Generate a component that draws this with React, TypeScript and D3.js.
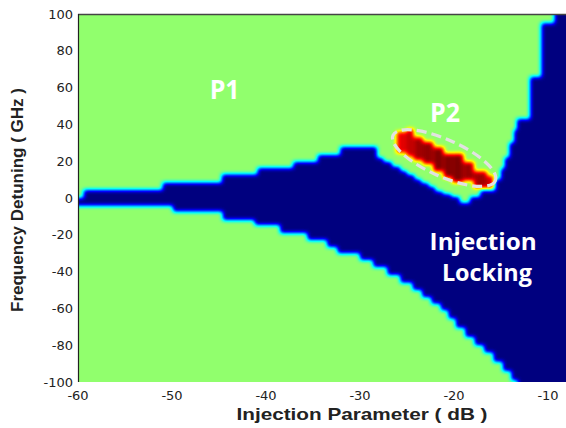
import * as d3 from 'd3';

const WIDTH = 566;
const HEIGHT = 428;

// locking region: [dB where the step starts, GHz]
const upperEdge: [number, number][] = [
  [-60, 0], [-59.4, 4.3], [-51, 8.3], [-44.7, 12.8], [-40.9, 16.3], [-37.1, 19.6],
  [-34.5, 23.4], [-32.1, 27.7], [-28.2, 21.7], [-27.5, 19.5], [-26.6, 17], [-25.7, 14.5],
  [-25, 12.5], [-24.2, 10], [-23.5, 8], [-22.7, 6], [-22, 3.5], [-21.2, 2], [-20.3, 0.5],
  [-19.4, -2.7], [-18.3, 0.5], [-17.2, 4], [-15.6, 10], [-15, 16], [-14.6, 22], [-14.1, 30],
  [-13.6, 37], [-13.3, 43], [-11.9, 65.8], [-10.7, 95], [-9.3, 120],
];
const lowerEdge: [number, number][] = [
  [-60, -4.2], [-49.9, -7.4], [-44.6, -12], [-41.2, -14.7], [-38.5, -19], [-35.6, -22.8],
  [-33.5, -26.6], [-32.4, -30], [-30, -33.7], [-28.6, -37.5], [-27.1, -41.8], [-25.7, -46],
  [-24.4, -50], [-23.4, -54], [-22.4, -57.5], [-21.4, -61], [-20.6, -65.5], [-19.8, -70.5],
  [-18.8, -75.5], [-17.8, -80], [-16.8, -84], [-15.8, -89], [-14.8, -94], [-13.9, -99],
  [-13.2, -130],
];

// P2 blob, one column per entry
const p2From = [-26.1, -25.0, -24.3, -23.3, -22.2, -21.1, -20.2, -19.0, -17.9, -16.5];
const p2To = [-25.0, -24.3, -23.3, -22.2, -21.1, -20.2, -19.0, -17.9, -16.5, -15.8];
const p2Lo = [24.5, 22.5, 20.5, 18.5, 14.5, 11, 8.5, 9.5, 5.5, 5.5];
const p2Hi = [36, 37.5, 33, 30.5, 27.5, 24, 24, 19.5, 14.5, 12];
const p2Level = [0.9, 0.94, 0.97, 0.98, 1, 1, 1, 0.98, 0.97, 0.93];

const P1_LEVEL = 0.518;
const LOCK_LEVEL = 0;

const xTicks = [-60, -50, -40, -30, -20, -10];
const yTicks = [-100, -80, -60, -40, -20, 0, 20, 40, 60, 80, 100];

const gray = (v: number) => {
  const c = Math.round(v * 255);
  return `rgb(${c},${c},${c})`;
};

export default function App() {
  const left = 78;
  const top = 14;
  const bottom = 382;

  const x = d3.scaleLinear().domain([-60, -10]).range([left, 548]);
  const y = d3.scaleLinear().domain([-100, 100]).range([bottom, top]);

  const xLo = x.invert(left - 12);
  const xHi = x.invert(WIDTH + 12);
  const extend = (pts: [number, number][]) =>
    [[xLo, pts[0][1]] as [number, number], ...pts, [xHi, pts[pts.length - 1][1]] as [number, number]];

  const stepArea = d3.area<[number, number]>()
    .x(d => x(d[0]))
    .y0(y(-140))
    .y1(d => y(d[1]))
    .curve(d3.curveStepAfter);

  const ell = { cx: x(-21.05), cy: y(21.7) };

  return (
    <svg width={WIDTH} height={HEIGHT} style={{ position: 'absolute', left: 0, top: 0 }}>
      <defs>
        <clipPath id="plot">
          <rect x={left} y={top} width={WIDTH - left} height={bottom - top} />
        </clipPath>
        <filter id="jet" filterUnits="userSpaceOnUse" x={left - 20} y={top - 20}
          width={WIDTH - left + 40} height={bottom - top + 40} colorInterpolationFilters="sRGB">
          <feGaussianBlur stdDeviation="1.9" />
          <feComponentTransfer>
            <feFuncR type="table" tableValues="0 0 0 0 0.5 1 1 1 0.5" />
            <feFuncG type="table" tableValues="0 0 0.5 1 1 1 0.5 0 0" />
            <feFuncB type="table" tableValues="0.5 1 1 1 0.5 0 0 0 0" />
          </feComponentTransfer>
        </filter>
      </defs>

      <g clipPath="url(#plot)">
        <g filter="url(#jet)">
          <rect x={left - 15} y={top - 15} width={WIDTH - left + 30} height={bottom - top + 30} fill={gray(P1_LEVEL)} />
          <path d={stepArea(extend(upperEdge)) ?? ''} fill={gray(LOCK_LEVEL)} />
          <path d={stepArea(extend(lowerEdge)) ?? ''} fill={gray(P1_LEVEL)} />
          {p2From.map((x0, i) => (
            <rect key={i} x={x(x0)} width={x(p2To[i]) - x(x0)} y={y(p2Hi[i])}
              height={y(p2Lo[i]) - y(p2Hi[i])} fill={gray(p2Level[i])} />
          ))}
        </g>
      </g>

      <ellipse cx={ell.cx} cy={ell.cy} rx={56} ry={18.5} transform={`rotate(24 ${ell.cx} ${ell.cy})`}
        fill="none" stroke="#e2e2e2" strokeWidth={3.2} strokeDasharray="10 5" />

      <line x1={left} x2={WIDTH} y1={top + 0.5} y2={top + 0.5} stroke="#444" strokeWidth={1.3} />
      <line x1={left + 0.5} x2={left + 0.5} y1={top} y2={bottom} stroke="#222" strokeWidth={1.2} />

      <g fontFamily="Open Sans" fontWeight="bold" fill="#fff" textAnchor="middle">
        <text x={x(-44.4)} y={y(53.8)} fontSize={26} textLength={30} lengthAdjust="spacingAndGlyphs">P1</text>
        <text x={x(-20.96)} y={y(41.3)} fontSize={26} textLength={30} lengthAdjust="spacingAndGlyphs">P2</text>
        <text x={x(-16.9)} y={y(-28.3)} fontSize={23} textLength={107} lengthAdjust="spacingAndGlyphs">Injection</text>
        <text x={x(-16.5)} y={y(-45)} fontSize={23} textLength={90} lengthAdjust="spacingAndGlyphs">Locking</text>
      </g>

      <g fontFamily="DejaVu Sans" fontSize={13} fill="#222">
        {yTicks.map(t => (
          <text key={t} x={73} y={y(t)} dy="0.36em" textAnchor="end">{t}</text>
        ))}
        {xTicks.map(t => (
          <text key={t} x={x(t)} y={400} textAnchor="middle">{t}</text>
        ))}
      </g>

      <text x={362} y={420} fontFamily="Liberation Sans" fontWeight="bold" fontSize={17} fill="#222"
        textAnchor="middle" textLength={251} lengthAdjust="spacingAndGlyphs">Injection Parameter ( dB )</text>
      <text transform="translate(23,200) rotate(-90)" fontFamily="Liberation Sans" fontWeight="bold" fontSize={16}
        fill="#222" textAnchor="middle" textLength={224} lengthAdjust="spacingAndGlyphs">Frequency Detuning ( GHz )</text>
    </svg>
  );
}
